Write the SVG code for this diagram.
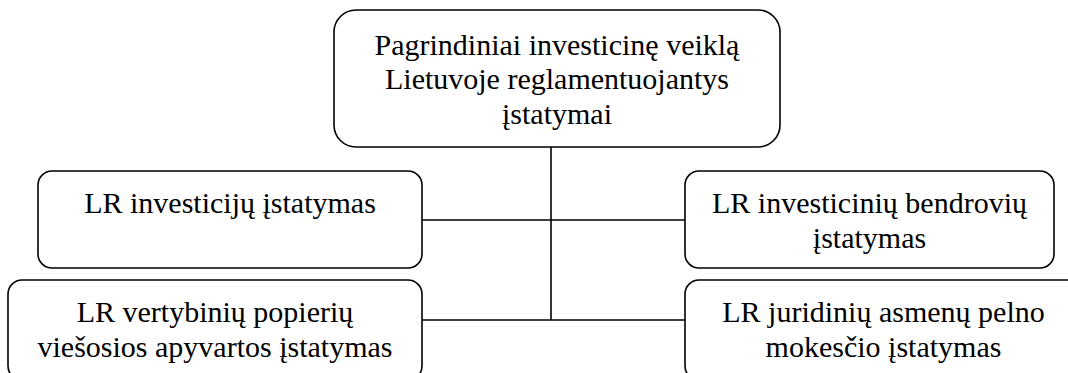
<svg xmlns="http://www.w3.org/2000/svg" width="1068" height="373" viewBox="0 0 1068 373">
<style>
.box{fill:#fff;stroke:#000;stroke-width:1.6}
.lbl{font-family:"Liberation Serif","Times New Roman",serif;font-size:30px;fill:#000;text-anchor:middle}
.conn{stroke:#000;stroke-width:1.6;fill:none}
</style>
<rect width="1068" height="373" fill="#fff"/>
<g id="connectors">
<line class="conn" x1="551" y1="147" x2="551" y2="320"/>
<line class="conn" x1="422" y1="220" x2="685" y2="220"/>
<line class="conn" x1="422" y1="320" x2="685" y2="320"/>
</g>
<g id="root">
<rect class="box" x="334" y="10" width="446" height="137" rx="22" ry="22"/>
<text class="lbl" x="557" y="54.5">Pagrindiniai investicinę veiklą</text>
<text class="lbl" x="557" y="89">Lietuvoje reglamentuojantys</text>
<text class="lbl" x="557" y="123.5">įstatymai</text>
</g>
<g id="investiciju">
<rect class="box" x="38" y="171" width="384" height="97" rx="14" ry="14"/>
<text class="lbl" x="230" y="213">LR investicijų įstatymas</text>
</g>
<g id="bendroviu">
<rect class="box" x="685" y="171" width="369" height="97" rx="14" ry="14"/>
<text class="lbl" x="869.5" y="213">LR investicinių bendrovių</text>
<text class="lbl" x="869.5" y="247.5">įstatymas</text>
</g>
<g id="vertybiniu">
<rect class="box" x="8" y="280" width="414" height="100" rx="14" ry="14"/>
<text class="lbl" x="215" y="322">LR vertybinių popierių</text>
<text class="lbl" x="215" y="356.5">viešosios apyvartos įstatymas</text>
</g>
<g id="pelno">
<rect class="box" x="685" y="280" width="397" height="100" rx="14" ry="14"/>
<text class="lbl" x="883.5" y="322">LR juridinių asmenų pelno</text>
<text class="lbl" x="883.5" y="356.5">mokesčio įstatymas</text>
</g>
</svg>
